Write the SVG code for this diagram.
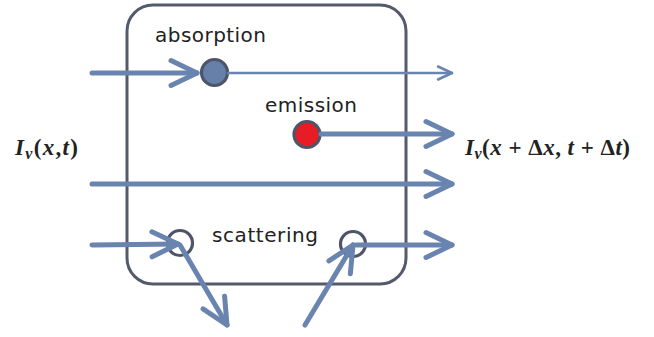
<svg xmlns="http://www.w3.org/2000/svg" width="654" height="337" viewBox="0 0 654 337">
  <style>
    .box { fill: none; stroke: #545a6c; stroke-width: 3; }
    .flow { fill: none; stroke: #6a84b0; stroke-linecap: round; stroke-linejoin: round; }
    .thick { stroke-width: 5; }
    .thin { stroke-width: 2.5; }
    .site { stroke: #4f5569; stroke-width: 3.2; }
    .label { font-family: "DejaVu Sans", "Verdana", sans-serif; font-size: 20px; fill: #222; }
    .math { font-family: "Liberation Serif", "Times New Roman", serif; font-size: 23px; font-weight: bold; fill: #222; }
    .it { font-style: italic; }
    .sub { font-size: 16px; font-style: italic; }
  </style>
  <defs>
    <marker id="head" markerUnits="userSpaceOnUse" markerWidth="40" markerHeight="40" viewBox="-32 -20 40 40" refX="0" refY="0" orient="auto">
      <path d="M-26,-12.5 L0,0 L-26,12.5" fill="none" stroke="#6a84b0" stroke-width="5" stroke-linecap="round" stroke-linejoin="round"/>
    </marker>
    <marker id="head-thin" markerUnits="userSpaceOnUse" markerWidth="30" markerHeight="30" viewBox="-22 -14 30 28" refX="0" refY="0" orient="auto">
      <path d="M-14,-6.5 L0,0 L-14,6.5" fill="none" stroke="#6a84b0" stroke-width="2.5" stroke-linecap="round" stroke-linejoin="round"/>
    </marker>
  </defs>

  <!-- control volume -->
  <g id="volume">
    <rect class="box" x="127" y="5" width="279" height="279" rx="26" ry="26"/>
  </g>

  <!-- interaction sites -->
  <g id="absorption">
    <circle class="site" cx="214.5" cy="72.5" r="13" fill="#6680aa"/>
    <text class="label" x="155" y="42" textLength="111">absorption</text>
  </g>
  <g id="emission">
    <circle class="site" cx="307" cy="134.5" r="13" fill="#e81c24"/>
    <text class="label" x="265" y="112" textLength="92">emission</text>
  </g>
  <g id="scatter-in">
    <circle class="site" cx="180" cy="243" r="12.5" fill="#ffffff"/>
  </g>
  <g id="scatter-out">
    <circle class="site" cx="353" cy="244" r="12.5" fill="#ffffff"/>
  </g>
  <g id="scattering-label">
    <text class="label" x="212" y="242" textLength="106">scattering</text>
  </g>

  <!-- rays -->
  <g id="connectors">
    <line class="flow thick" x1="92" y1="73" x2="197" y2="73" marker-end="url(#head)"/>
    <line class="flow thin" x1="228" y1="73" x2="452" y2="73" marker-end="url(#head-thin)"/>
    <line class="flow thick" x1="321" y1="134" x2="452" y2="134" marker-end="url(#head)"/>
    <line class="flow thick" x1="92" y1="184" x2="452" y2="184" marker-end="url(#head)"/>
    <line class="flow thick" x1="92" y1="245" x2="178" y2="244" marker-end="url(#head)"/>
    <line class="flow thick" x1="180" y1="245" x2="227" y2="325" marker-end="url(#head)"/>
    <line class="flow thick" x1="305" y1="325" x2="353" y2="245" marker-end="url(#head)"/>
    <line class="flow thick" x1="356" y1="245" x2="452" y2="245" marker-end="url(#head)"/>
  </g>

  <!-- intensity labels -->
  <g id="intensity-in">
    <text class="math" x="15" y="155" textLength="63"><tspan class="it">I</tspan><tspan class="sub" dy="4">v</tspan><tspan dy="-4">(</tspan><tspan class="it">x</tspan>,<tspan class="it">t</tspan>)</text>
  </g>
  <g id="intensity-out">
    <text class="math" x="465" y="155" textLength="165"><tspan class="it">I</tspan><tspan class="sub" dy="4">v</tspan><tspan dy="-4">(</tspan><tspan class="it">x</tspan> + Δ<tspan class="it">x</tspan>, <tspan class="it">t</tspan> + Δ<tspan class="it">t</tspan>)</text>
  </g>
</svg>
